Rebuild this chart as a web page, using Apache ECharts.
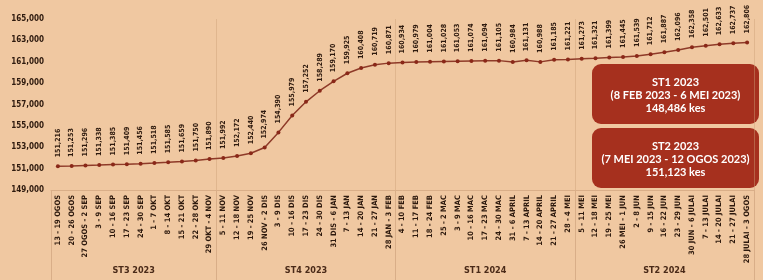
<!DOCTYPE html>
<html>
<head>
<meta charset="utf-8">
<script src="https://cdn.jsdelivr.net/npm/echarts@6/dist/echarts.min.js"></script>
<style>
html,body{margin:0;padding:0;background:#F0C8A1;}
#c{width:763px;height:280px;}
</style>
</head>
<body>
<div id="c"></div>
<script>
const categories = [
  '13 - 19 OGOS','20 - 26 OGOS','27 OGOS - 2 SEP','3 - 9 SEP','10 - 16 SEP','17 - 23 SEP','24 - 30 SEP','1 - 7 OKT','8 - 14 OKT','15 - 21 OKT','22 - 28 OKT','29 OKT - 4 NOV',
  '5 - 11 NOV','12 - 18 NOV','19 - 25 NOV','26 NOV - 2 DIS','3 - 9 DIS','10 - 16 DIS','17 - 23 DIS','24 - 30 DIS','31 DIS - 6 JAN','7 - 13 JAN','14 - 20 JAN','21 - 27 JAN','28 JAN - 3 FEB',
  '4 - 10 FEB','11 - 17 FEB','18 - 24 FEB','25 - 2 MAC','3 - 9 MAC','10 - 16 MAC','17 - 23 MAC','24 - 30 MAC','31 - 6 APRIL','7 - 13 APRIL','14 - 20 APRIL','21 - 27 APRIL','28 - 4 MEI',
  '5 - 11 MEI','12 - 18 MEI','19 - 25 MEI','26 MEI - 1 JUN','2 - 8 JUN','9 - 15 JUN','16 - 22 JUN','23 - 29 JUN','30 JUN - 6 JULAI','7 - 13 JULAI','14 - 20 JULAI','21 - 27 JULAI','28 JULAI - 3 OGOS'
];
const values = [
  151216,151253,151296,151338,151385,151409,151456,151518,151585,151659,151750,151890,
  151992,152172,152440,152974,154390,155979,157252,158289,159170,159925,160408,160719,160871,
  160934,160979,161004,161028,161053,161074,161094,161105,160984,161131,160988,161185,161221,
  161273,161321,161399,161445,161539,161712,161887,162096,162358,162501,162633,162737,162806
];
const groupNames = ['ST3 2023','ST4 2023','ST1 2024','ST2 2024'];
const groupSizes = [12,13,13,13];
const yTicks = [149000,151000,153000,155000,157000,159000,161000,163000,165000];
const boxTitles = ['ST1 2023','ST2 2023'];
const boxRanges = ['(8 FEB 2023 - 6 MEI 2023)','(7 MEI 2023 - 12 OGOS 2023)'];
const boxTotals = ['148,486 kes','151,123 kes'];

const groupStarts = [];
const groupCenters = {};
let acc = 0;
groupSizes.forEach((s, i) => { groupStarts.push(acc); groupCenters[acc + s / 2] = groupNames[i]; acc += s; });

const textColor = '#2E1A0E';
const sepColor = '#D9AE88';
const FONT = '"DejaVu Sans Condensed", "DejaVu Sans", sans-serif';
const BOXFONT = 'bold 11px Lato, sans-serif';

const chart = echarts.init(document.getElementById('c'), null, {renderer: 'canvas'});

function boxGraphic(i, top) {
  return {
    type: 'group', left: 592, top: top,
    children: [
      {type: 'rect', shape: {x: 0, y: 0, width: 167, height: 60, r: 9}, style: {fill: '#A6301E'}},
      {type: 'text', style: {text: boxTitles[i], x: 83.5, y: 18, align: 'center', verticalAlign: 'middle', fill: '#fff', font: BOXFONT}},
      {type: 'text', style: {text: boxRanges[i], x: 83.5, y: 31, align: 'center', verticalAlign: 'middle', fill: '#fff', font: BOXFONT}},
      {type: 'text', style: {text: boxTotals[i], x: 83.5, y: 44, align: 'center', verticalAlign: 'middle', fill: '#fff', font: BOXFONT}}
    ]
  };
}

chart.setOption({
  backgroundColor: '#F0C8A1',
  animation: false,
  grid: {left: 51, right: 9, top: 19, bottom: 90},
  xAxis: [
    {
      type: 'category', data: categories, boundaryGap: true,
      axisLine: {show: true, lineStyle: {color: sepColor, width: 1}},
      axisTick: {show: true, interval: (idx) => groupStarts.includes(idx), length: 90, lineStyle: {color: sepColor, width: 1}},
      splitLine: {show: true, interval: (idx) => groupStarts.includes(idx) && idx > 0, lineStyle: {color: 'rgba(205,160,120,0.45)', width: 1}},
      axisLabel: {interval: 0, rotate: 90, margin: 5, fontSize: 7.5, fontWeight: 'bold', color: textColor, fontFamily: FONT}
    },
    {
      type: 'value', min: 0, max: categories.length, interval: 0.5, position: 'bottom',
      axisLine: {show: false}, axisTick: {show: false}, splitLine: {show: false},
      axisLabel: {margin: 76, fontSize: 9, fontWeight: 'bold', color: '#4A2A18', fontFamily: FONT,
        formatter: (v) => groupCenters[v] || ''}
    }
  ],
  yAxis: {
    type: 'value', min: 149000, max: 165000, interval: 1000,
    axisLine: {show: false}, axisTick: {show: false}, splitLine: {show: false},
    axisLabel: {margin: 7, fontSize: 8, fontWeight: 'bold', color: textColor, fontFamily: FONT,
      formatter: (v) => yTicks.includes(v) ? v.toLocaleString('en-US') : ''}
  },
  series: [{
    type: 'line', data: values, xAxisIndex: 0,
    symbol: 'circle', symbolSize: 4,
    lineStyle: {color: '#8E3A28', width: 1.5},
    itemStyle: {color: '#8A2818'},
    label: {show: true, position: 'top', distance: 7, rotate: 90, align: 'left', verticalAlign: 'middle',
      fontSize: 7, fontWeight: 'bold', color: textColor, fontFamily: FONT,
      formatter: (p) => p.value.toLocaleString('en-US')}
  }],
  graphic: [boxGraphic(0, 64), boxGraphic(1, 128)]
});
</script>
</body>
</html>
